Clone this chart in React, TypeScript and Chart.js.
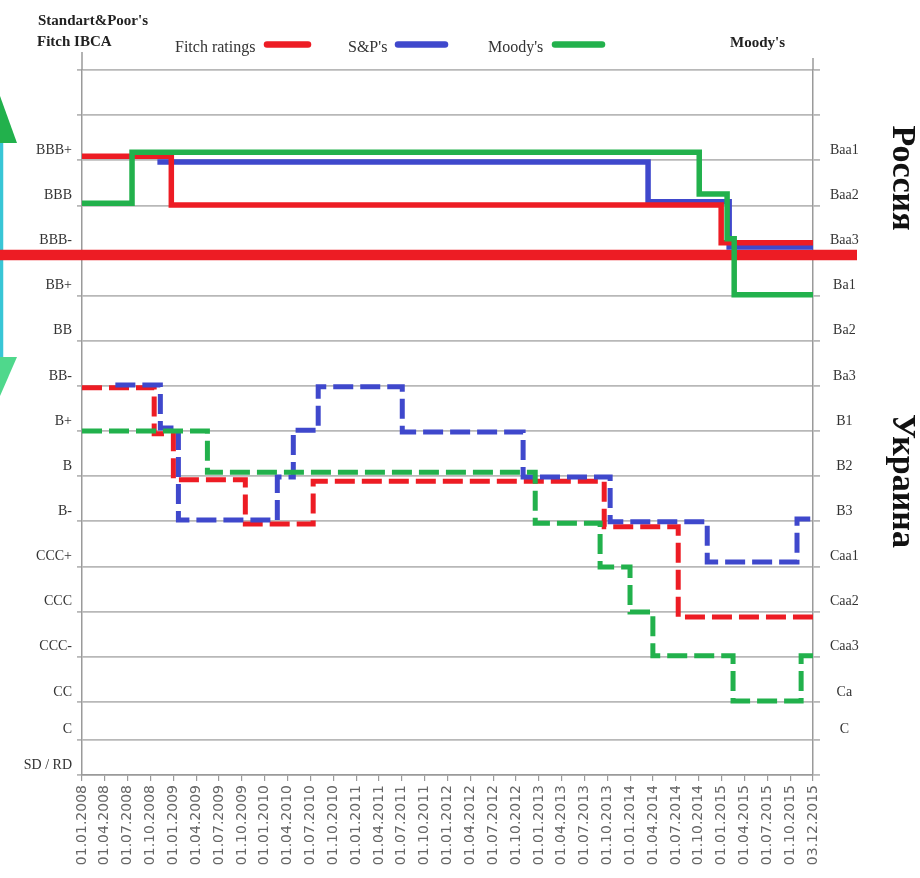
import React, { useEffect, useRef } from 'react';
import { Chart, registerables } from 'chart.js';

Chart.register(...registerables);

// ---------- data ----------
const xLabels = [
  '01.01.2008', '01.04.2008', '01.07.2008', '01.10.2008',
  '01.01.2009', '01.04.2009', '01.07.2009', '01.10.2009',
  '01.01.2010', '01.04.2010', '01.07.2010', '01.10.2010',
  '01.01.2011', '01.04.2011', '01.07.2011', '01.10.2011',
  '01.01.2012', '01.04.2012', '01.07.2012', '01.10.2012',
  '01.01.2013', '01.04.2013', '01.07.2013', '01.10.2013',
  '01.01.2014', '01.04.2014', '01.07.2014', '01.10.2014',
  '01.01.2015', '01.04.2015', '01.07.2015', '01.10.2015',
  '03.12.2015',
];

// rating scale (bottom to top), S&P / Fitch on the left, Moody's on the right
const leftRatings = ['SD / RD', 'C', 'CC', 'CCC-', 'CCC', 'CCC+', 'B-', 'B', 'B+', 'BB-', 'BB', 'BB+', 'BBB-', 'BBB', 'BBB+', '', ''];
const rightRatings = ['', 'C', 'Ca', 'Caa3', 'Caa2', 'Caa1', 'B3', 'B2', 'B1', 'Ba3', 'Ba2', 'Ba1', 'Baa3', 'Baa2', 'Baa1', '', ''];
const ratingTickValues = [0.38, 1.16, 2, 3, 4, 5, 6, 7, 8, 9, 10, 11, 12, 13, 14, 15, 16];

// Russia (solid) — x in quarter-index units along the date axis
const ruFitchX = [0, 3.91, 27.98, 32];
const ruFitchY = [14.09, 13.01, 12.17, 12.17];
const ruSpX = [3.3, 24.78, 28.33, 32];
const ruSpY = [13.96, 13.08, 12.08, 12.08];
const ruMoodyX = [0, 2.19, 27.02, 28.24, 28.55, 32];
const ruMoodyY = [13.05, 14.18, 13.25, 12.26, 11.02, 11.02];

// Ukraine (dashed)
const uaFitchX = [0, 3.16, 4.0, 7.15, 10.12, 22.86, 26.1, 32];
const uaFitchY = [8.96, 7.94, 6.92, 5.94, 6.89, 5.88, 3.88, 3.88];
const uaSpX = [1.46, 3.43, 4.22, 8.55, 9.25, 10.34, 14.02, 19.31, 23.12, 27.37, 31.3, 32];
const uaSpY = [9.02, 8.07, 6.03, 6.98, 8.02, 8.98, 7.98, 6.98, 5.99, 5.1, 6.05, 6.05];
const uaMoodyX = [0, 5.49, 19.84, 22.68, 23.99, 24.99, 28.5, 31.48, 32];
const uaMoodyY = [8.0, 7.09, 5.96, 4.99, 3.99, 3.02, 2.02, 3.02, 3.02];

// investment-grade boundary line
const investmentBoundary = 11.9;

const legendItems = ['Fitch ratings', "S&P's", "Moody's"];

// ---------- styles ----------
const RED = '#ed1c24';
const BLUE = '#3f48cc';
const GREEN = '#22b14c';
const SERIF = '"Liberation Serif", "Times New Roman", serif';

const pts = (xs: number[], ys: number[]) => xs.map((x, k) => ({ x, y: ys[k] }));

const decorPlugin = {
  id: 'decor',
  beforeDatasetsDraw(chart: any) {
    const { ctx, scales } = chart;
    ctx.save();
    // double arrow on the left edge
    ctx.fillStyle = '#22b14c';
    ctx.beginPath();
    ctx.moveTo(0, 96);
    ctx.lineTo(17, 143);
    ctx.lineTo(-17, 143);
    ctx.closePath();
    ctx.fill();
    ctx.strokeStyle = '#38c6d6';
    ctx.lineWidth = 3.5;
    ctx.beginPath();
    ctx.moveTo(1.5, 143);
    ctx.lineTo(1.5, 358);
    ctx.stroke();
    ctx.fillStyle = '#4fd88c';
    ctx.beginPath();
    ctx.moveTo(-17, 357);
    ctx.lineTo(17, 357);
    ctx.lineTo(0, 396);
    ctx.closePath();
    ctx.fill();

    // investment-grade boundary
    const py = scales.y.getPixelForValue(investmentBoundary);
    ctx.strokeStyle = RED;
    ctx.lineWidth = 10.5;
    ctx.beginPath();
    ctx.moveTo(0, py);
    ctx.lineTo(857, py);
    ctx.stroke();
    ctx.restore();
  },
  afterDraw(chart: any) {
    const { ctx, chartArea } = chart;
    ctx.save();
    // axis lines extend above plot
    ctx.strokeStyle = '#9a9a9a';
    ctx.lineWidth = 1.5;
    ctx.beginPath();
    ctx.moveTo(chartArea.left, 52);
    ctx.lineTo(chartArea.left, chartArea.top);
    ctx.moveTo(chartArea.right, 58);
    ctx.lineTo(chartArea.right, chartArea.top);
    ctx.stroke();

    // header
    ctx.fillStyle = '#222';
    ctx.textBaseline = 'alphabetic';
    ctx.textAlign = 'left';
    ctx.font = `bold 15px ${SERIF}`;
    ctx.fillText("Standart&Poor's", 38, 25);
    ctx.fillText('Fitch IBCA', 37, 46);
    ctx.fillText("Moody's", 730, 47);

    // legend
    ctx.font = `16px ${SERIF}`;
    const legendX = [175, 348, 488];
    const lineX = [[267, 308], [398, 445], [555, 602]];
    const cols = [RED, BLUE, GREEN];
    legendItems.forEach((t, k) => {
      ctx.fillStyle = '#333';
      ctx.fillText(t, legendX[k], 52);
      ctx.strokeStyle = cols[k];
      ctx.lineWidth = 6.5;
      ctx.lineCap = 'round';
      ctx.beginPath();
      ctx.moveTo(lineX[k][0], 44.5);
      ctx.lineTo(lineX[k][1], 44.5);
      ctx.stroke();
    });
    ctx.lineCap = 'butt';

    // country names
    ctx.fillStyle = '#111';
    ctx.font = `bold 34px ${SERIF}`;
    ctx.textAlign = 'center';
    [['Россия', 178], ['Украина', 481]].forEach(([t, cy]) => {
      ctx.save();
      ctx.translate(893, cy as number);
      ctx.rotate(Math.PI / 2);
      ctx.fillText(t as string, 0, 0);
      ctx.restore();
    });
    ctx.restore();
  },
};

export default function App() {
  const ref = useRef<HTMLCanvasElement | null>(null);

  useEffect(() => {
    if (!ref.current) return;
    const solid = (label: string, color: string, xs: number[], ys: number[], order: number) => ({
      label, data: pts(xs, ys), borderColor: color, backgroundColor: color,
      borderWidth: 5.5, stepped: true, pointRadius: 0, fill: false, order,
      borderJoinStyle: 'miter', borderCapStyle: 'butt',
    });
    const dashed = (label: string, color: string, xs: number[], ys: number[], order: number) => ({
      ...solid(label, color, xs, ys, order), borderWidth: 5, borderDash: [20, 7],
    });

    const tickFontSerif = { family: SERIF, size: 14 };

    const chart = new Chart(ref.current, {
      type: 'line',
      data: {
        datasets: [
          solid('Moody\'s Russia', GREEN, ruMoodyX, ruMoodyY, 0),
          solid('Fitch Russia', RED, ruFitchX, ruFitchY, 1),
          solid('S&P Russia', BLUE, ruSpX, ruSpY, 2),
          dashed('Moody\'s Ukraine', GREEN, uaMoodyX, uaMoodyY, 3),
          dashed('S&P Ukraine', BLUE, uaSpX, uaSpY, 4),
          dashed('Fitch Ukraine', RED, uaFitchX, uaFitchY, 5),
        ] as any,
      },
      options: {
        animation: false,
        responsive: false,
        layout: { padding: { top: 70, left: 0, right: 0, bottom: 0 } },
        plugins: { legend: { display: false }, tooltip: { enabled: false }, title: { display: false } },
        scales: {
          x: {
            type: 'linear', min: 0, max: 32,
            afterBuildTicks: (s: any) => { s.ticks = xLabels.map((_, i) => ({ value: i })); },
            afterFit: (s: any) => { s.height = 103; },
            ticks: {
              callback: (_v: any, i: number) => xLabels[i],
              minRotation: 90, maxRotation: 90, autoSkip: false,
              font: { family: 'DejaVu Sans', size: 14 }, color: '#666', padding: 4,
            },
            grid: { drawOnChartArea: false, tickLength: 6, color: '#9a9a9a', lineWidth: 1.2 },
            border: { color: '#9a9a9a', width: 1.5 },
          },
          y: {
            type: 'linear', position: 'left', min: 0.38, max: 16,
            afterBuildTicks: (s: any) => { s.ticks = ratingTickValues.map((v) => ({ value: v })); },
            afterFit: (s: any) => { s.width = 82; },
            ticks: {
              callback: (_v: any, i: number) => leftRatings[i],
              font: tickFontSerif, color: '#333', padding: 5, labelOffset: -10, autoSkip: false,
            },
            grid: { color: '#b8b8b8', lineWidth: 1.8, tickLength: 5 },
            border: { color: '#9a9a9a', width: 1.5 },
          },
          y2: {
            type: 'linear', position: 'right', min: 0.38, max: 16,
            afterBuildTicks: (s: any) => { s.ticks = ratingTickValues.map((v) => ({ value: v })); },
            afterFit: (s: any) => { s.width = 107; },
            ticks: {
              callback: (_v: any, i: number) => rightRatings[i],
              font: tickFontSerif, color: '#333', padding: 10, labelOffset: -10,
              crossAlign: 'center', autoSkip: false,
            },
            grid: { drawOnChartArea: false, color: '#b8b8b8', lineWidth: 1.8, tickLength: 7 },
            border: { color: '#9a9a9a', width: 1.5 },
          },
        },
      } as any,
      plugins: [decorPlugin],
    });
    return () => chart.destroy();
  }, []);

  return (
    <div style={{ position: 'absolute', left: 0, top: 0, width: 920, height: 878, background: '#fff' }}>
      <canvas ref={ref} width={920} height={878} style={{ display: 'block' }} />
    </div>
  );
}
